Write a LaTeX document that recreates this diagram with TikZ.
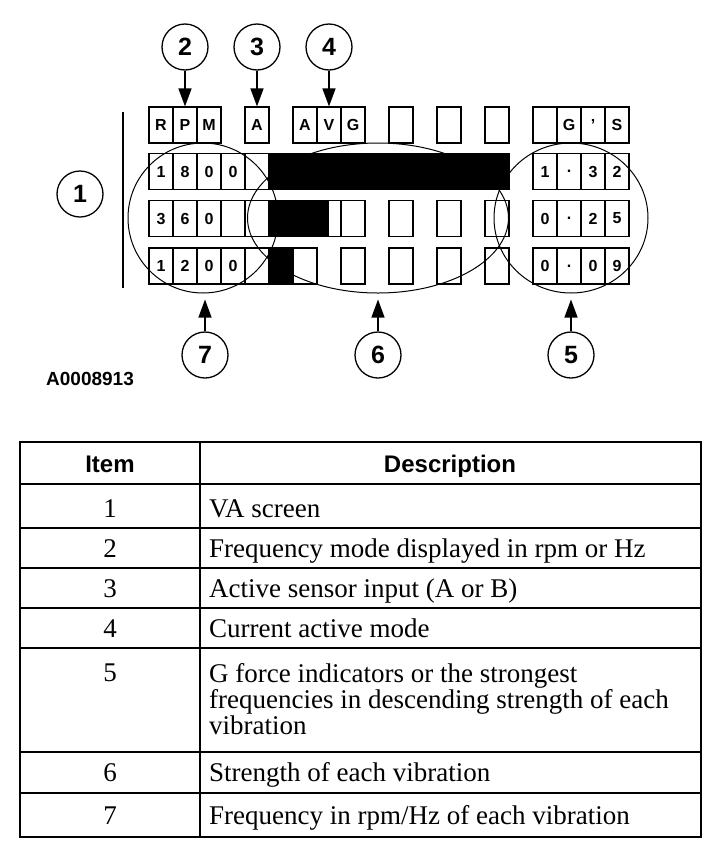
\documentclass[tikz,border=0pt]{standalone}
\usepackage{fontspec}
\setmainfont{Liberation Serif}
\setsansfont{Liberation Sans}
\usetikzlibrary{positioning,arrows.meta,shapes.geometric,calc}

\begin{document}
\begin{tikzpicture}[
          x=1pt, y=-1pt,
          every node/.style={inner sep=0pt},
          cell/.style={draw, line width=1.1pt, minimum width=24pt, minimum height=36pt},
          glyph/.style={font=\fontsize{16}{16}\sffamily\bfseries},
          bar/.style={fill=black},
          zone/.style={draw, ellipse, line width=1pt},
          callout/.style={draw, circle, line width=1.3pt, minimum size=46pt, font=\fontsize{25}{25}\sffamily\bfseries},
          pointer/.style={line width=1.3pt, -{Triangle[length=18pt,width=13pt]}},
          head/.style={font=\fontsize{24}{24}\sffamily\bfseries, anchor=base},
          item/.style={font=\fontsize{27}{27}\selectfont, anchor=base},
          desc/.style={font=\fontsize{27}{26}\selectfont, anchor=base west, align=left},
          rule/.style={line width=1.6pt}
      ]
        \useasboundingbox (0,0) rectangle (704,852);

        \draw[line width=2.6pt] (123,112) -- (123,288);

        \foreach \c/\t in {0/R,1/P,2/M,4/A,6/A,7/V,8/G,10/,12/,14/,16/,17/G,18/',19/S}
          \node[cell, glyph] (top-\c) at ({161+24*\c},125) {\t};

        \foreach \c in {0,...,14,16,17,18,19}
          \node[cell] (d1-\c) at ({161+24*\c},171.5) {};
        \foreach \c in {0,...,8,10,12,14,16,17,18,19}
          \node[cell] (d2-\c) at ({161+24*\c},218.5) {};
        \foreach \c in {0,...,6,8,10,12,14,16,17,18,19}
          \node[cell] (d3-\c) at ({161+24*\c},266) {};

        \foreach \c/\t in {0/1,1/8,2/0,3/0,16/1,17/.,18/3,19/2}
          \node[glyph] (g1-\c) at (d1-\c) {\t};
        \foreach \c/\t in {0/3,1/6,2/0,16/0,17/.,18/2,19/5}
          \node[glyph] (g2-\c) at (d2-\c) {\t};
        \foreach \c/\t in {0/1,1/2,2/0,3/0,16/0,17/.,18/0,19/9}
          \node[glyph] (g3-\c) at (d3-\c) {\t};

        \fill[bar] (d1-5.north west) rectangle (d1-14.south east);
        \fill[bar] (d2-5.north west) rectangle (d2-7.south);
        \fill[bar] (d3-5.north west) rectangle (d3-5.south east);

        \node[zone, minimum width=150pt, minimum height=150pt] (freq) at (203,218) {};
        \node[zone, minimum width=261pt, minimum height=150pt] (level) at (378,218) {};
        \node[zone, minimum width=154pt, minimum height=150pt] (gforce) at (571,218) {};

        \node[callout] (lab1) at (80,194) {1};
        \node[callout] (lab2) at (185,47) {2};
        \node[callout] (lab3) at (257,47) {3};
        \node[callout] (lab4) at (329,47) {4};
        \node[callout] (lab7) at (205,355) {7};
        \node[callout] (lab6) at (378,355) {6};
        \node[callout] (lab5) at (571,355) {5};

        \draw[pointer] (lab2) -- (top-1.north);
        \draw[pointer] (lab3) -- (top-4.north);
        \draw[pointer] (lab4) -- (top-7.north);
        \draw[pointer, shorten >=6pt] (lab7) -- (lab7 |- freq.south);
        \draw[pointer, shorten >=6pt] (lab6) -- (level.south);
        \draw[pointer, shorten >=6pt] (lab5) -- (gforce.south);

        \node[font=\fontsize{19}{19}\sffamily\bfseries, anchor=west] (fig) at (46,379) {A0008913};

        \draw[rule] (20,442) rectangle (701,837);
        \draw[rule] (200,442) -- (200,837);
        \foreach \y in {484,528,568,608,648,752,793}
          \draw[rule] (20,\y) -- (701,\y);

        \node[head] (hitem) at (110,472) {Item};
        \node[head] (hdesc) at (450,472) {Description};

        \node[item] (n1) at (110,517) {1};
        \node[desc] (t1) at (209,517) {VA screen};
        \node[item] (n2) at (110,557) {2};
        \node[desc] (t2) at (209,557) {Frequency mode displayed in rpm or Hz};
        \node[item] (n3) at (110,597) {3};
        \node[desc] (t3) at (209,597) {Active sensor input (A or B)};
        \node[item] (n4) at (110,637) {4};
        \node[desc] (t4) at (209,637) {Current active mode};
        \node[item] (n5) at (110,681) {5};
        \node[desc, anchor=north west] (t5) at (209,663) {G force indicators or the strongest\\frequencies in descending strength of each\\vibration};
        \node[item] (n6) at (110,781) {6};
        \node[desc] (t6) at (209,781) {Strength of each vibration};
        \node[item] (n7) at (110,824) {7};
        \node[desc] (t7) at (209,824) {Frequency in rpm/Hz of each vibration};
      \end{tikzpicture}
\end{document}
